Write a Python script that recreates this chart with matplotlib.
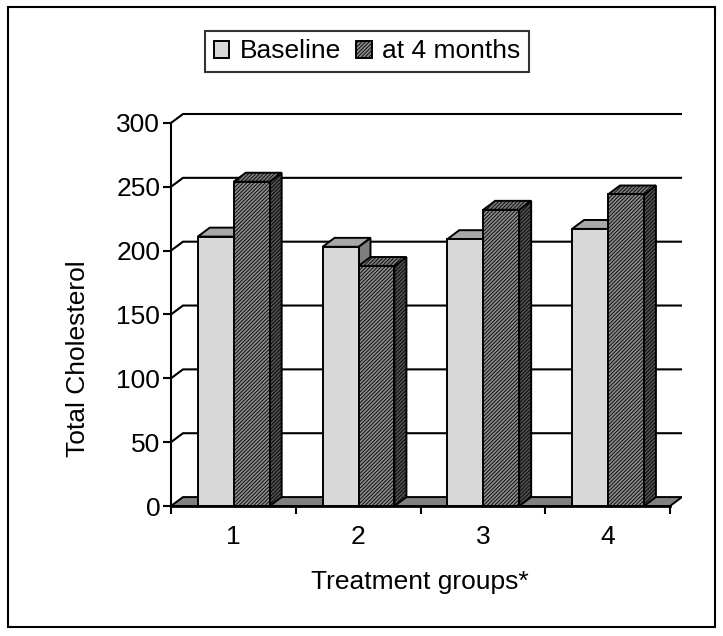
import matplotlib
matplotlib.use("Agg")
import matplotlib.pyplot as plt
from matplotlib.patches import Polygon, Patch, Rectangle

plt.rcParams['font.family'] = ['Liberation Sans', 'DejaVu Sans']
plt.rcParams['hatch.linewidth'] = 0.6

categories = ["1", "2", "3", "4"]
series_names = ["Baseline", "at 4 months"]
baseline = [211, 203, 209, 217]
month4 = [254, 188, 232, 244]
yticks = [0, 50, 100, 150, 200, 250, 300]

FS = 19
fig = plt.figure(figsize=(7.23, 6.36), dpi=100)
ax = fig.add_axes([171 / 723, (636 - 506) / 636, 511 / 723, 392 / 636])
DX, DY = 0.096, 7.0
n = len(categories)
ax.set_xlim(0, n + DX)
ax.set_ylim(0, 300 + DY)

EC = 'black'
LW = 1.4

# back gridlines with left-wall diagonals
for v in yticks[1:]:
    ax.plot([0, DX, n + DX], [v, v + DY, v + DY], color='black', lw=1.5,
            zorder=1, clip_on=False, solid_capstyle='butt')

# floor
ax.add_patch(Polygon([(0, 0), (n, 0), (n + DX, DY), (DX, DY)], closed=True,
                     facecolor='#808080', edgecolor=EC, lw=LW, zorder=2))

HATCH = '/////////'
styles = [
    dict(front='#d8d8d8', top='#a8a8a8', side='#7e7e7e', hatch=None),
    dict(front='#8a8a8a', top='#7a7a7a', side='#505050', hatch=HATCH),
]
offsets = [0.215, 0.503]
W = 0.288
data = [baseline, month4]

z = 3
for i in range(n):
    for j, vals in enumerate(data):
        v = vals[i]
        st = styles[j]
        x0 = i + offsets[j]
        side = Polygon([(x0 + W, 0), (x0 + W + DX, DY), (x0 + W + DX, v + DY), (x0 + W, v)],
                       closed=True, facecolor=st['side'], edgecolor=EC, lw=LW,
                       hatch=st['hatch'], zorder=z, clip_on=False)
        top = Polygon([(x0, v), (x0 + W, v), (x0 + W + DX, v + DY), (x0 + DX, v + DY)],
                      closed=True, facecolor=st['top'], edgecolor=EC, lw=LW,
                      hatch=st['hatch'], zorder=z, clip_on=False)
        front = Polygon([(x0, 0), (x0 + W, 0), (x0 + W, v), (x0, v)], closed=True,
                        facecolor=st['front'], edgecolor=EC, lw=LW,
                        hatch=st['hatch'], zorder=z, clip_on=False)
        ax.add_patch(side)
        ax.add_patch(top)
        ax.add_patch(front)
        z += 1

# spines / axes
for s in ['top', 'right']:
    ax.spines[s].set_visible(False)
ax.spines['left'].set_bounds(0, 300)
ax.spines['bottom'].set_bounds(0, n)
ax.spines['left'].set_linewidth(1.5)
ax.spines['bottom'].set_linewidth(2.0)
ax.spines['left'].set_zorder(20)
ax.spines['bottom'].set_zorder(20)

ax.set_yticks(yticks)
ax.set_yticklabels([str(t) for t in yticks], fontsize=FS)
ax.tick_params(axis='y', direction='out', length=5.8, width=1.5, pad=2)

ax.set_xticks(range(n + 1))
ax.set_xticklabels([''] * (n + 1))
ax.set_xticks([i + 0.5 for i in range(n)], minor=True)
ax.set_xticklabels(categories, minor=True, fontsize=FS)
ax.tick_params(axis='x', which='major', direction='out', length=5.8, width=1.5)
ax.tick_params(axis='x', which='minor', length=0, pad=14)

ax.set_ylabel("Total Cholesterol", fontsize=FS)
ax.yaxis.label.set_va('center')
ax.yaxis.set_label_coords(-0.182, 0.375)
ax.set_xlabel("Treatment groups*", fontsize=FS)
ax.xaxis.label.set_va('center')
ax.xaxis.set_label_coords(0.487, -0.193)

handles = [Patch(facecolor=styles[0]['front'], edgecolor='black', lw=1.4),
           Patch(facecolor=styles[1]['front'], edgecolor='black', lw=1.4, hatch=HATCH)]
leg = fig.legend(handles, series_names, loc='center',
                 bbox_to_anchor=((201 + 533) / 2 / 723, 1 - (29 + 74) / 2 / 636),
                 ncol=2, fontsize=FS, frameon=True, fancybox=False,
                 handlelength=0.6, handleheight=0.6, handletextpad=0.4,
                 columnspacing=0.55, borderpad=0.32, borderaxespad=0)
leg.get_frame().set_edgecolor('black')
leg.get_frame().set_linewidth(1.5)

fig.patches.append(Rectangle((8 / 723, 1 - 627 / 636), 707 / 723, 620 / 636,
                             transform=fig.transFigure, fill=False,
                             edgecolor='black', lw=1.5))

fig.savefig("out.png", dpi=100)
